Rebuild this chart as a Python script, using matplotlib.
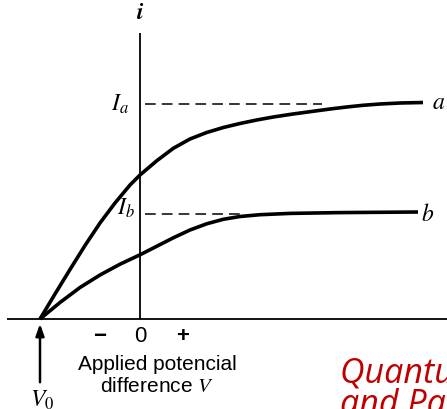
import matplotlib
matplotlib.use("Agg")
import matplotlib.pyplot as plt

plt.rcParams["mathtext.fontset"] = "stix"

# Data (arbitrary units: V relative to the i axis, V0 = -1)
V0 = -1.0
Ia = 2.15
Ib = 1.055
Va = [-1.0, -0.85, -0.7, -0.55, -0.4, -0.25, -0.1, 0.0, 0.167, 0.333, 0.5, 0.667,
      0.833, 1.0, 1.167, 1.333, 1.53, 1.73, 1.9, 2.067, 2.23, 2.4, 2.6, 2.83]
ia = [0.0, 0.25, 0.495, 0.735, 0.96, 1.16, 1.34, 1.44, 1.582, 1.707, 1.80, 1.865,
      1.915, 1.955, 1.99, 2.02, 2.05, 2.077, 2.10, 2.12, 2.137, 2.15, 2.16, 2.165]
Vb = [-1.0, -0.8, -0.6, -0.4, -0.2, 0.0, 0.167, 0.333, 0.5, 0.667, 0.833, 1.0,
      1.2, 1.5, 2.0, 2.78]
ib = [0.0, 0.165, 0.315, 0.44, 0.548, 0.642, 0.727, 0.812, 0.89, 0.952, 0.997, 1.025,
      1.043, 1.056, 1.064, 1.07]
tick_labels = ["\u2212", "0", "+"]
tick_pos = [-0.40, 0.0, 0.43]

fig = plt.figure(figsize=(4.47, 4.09), dpi=100)
ax = fig.add_axes([0, 0, 1, 1])
ax.set_xlim(-1.40, 3.07)
ax.set_ylim(-0.90, 3.19)
ax.axis("off")

# axes
ax.plot([-1.33, 3.07], [0, 0], color="black", lw=1.3, solid_capstyle="butt")
ax.plot([0, 0], [0, 2.86], color="black", lw=1.3, solid_capstyle="butt")

# dashed saturation levels
ax.plot([0.05, 1.82], [Ia, Ia], color="black", lw=1.1, dashes=(7, 4))
ax.plot([0.05, 1.03], [Ib, Ib], color="black", lw=1.1, dashes=(7, 4))

# curves
ax.plot(Va, ia, color="black", lw=2.6, solid_joinstyle="round", solid_capstyle="butt")
ax.plot(Vb, ib, color="black", lw=2.6, solid_joinstyle="round", solid_capstyle="butt")

ax.text(0.0, 3.07, r"$\boldsymbol{i}$", ha="center", va="center", fontsize=17)
ax.text(-0.20, Ia + 0.0, r"$I_a$", ha="center", va="center", fontsize=17)
ax.text(-0.14, Ib + 0.05, r"$I_b$", ha="center", va="center", fontsize=17)
ax.text(2.99, 2.17, r"$a$", ha="center", va="center", fontsize=17)
ax.text(2.88, 1.05, r"$b$", ha="center", va="center", fontsize=17)

for p, t in zip(tick_pos, tick_labels):
    ax.text(p, -0.18, t, ha="center", va="center", fontsize=16,
            family="Liberation Sans", fontweight="bold" if t != "0" else "normal")

ax.text(0.17, -0.46, "Applied potencial", ha="center", va="center", fontsize=15, family="Liberation Sans")
ax.text(0.17, -0.68, r"difference $V$", ha="center", va="center", fontsize=15, family="Liberation Sans")

ax.annotate("", xy=(V0, -0.02), xytext=(V0, -0.66),
            arrowprops=dict(arrowstyle="-|>,head_length=0.7,head_width=0.25", color="black", lw=1.8))
ax.text(V0 + 0.02, -0.81, r"$V_0$", ha="center", va="center", fontsize=17)

ax.text(2.0, -0.64, "Quantum Physics", ha="left", va="baseline", fontsize=24.5,
        family="Open Sans", style="italic", color="#c00000")
ax.text(2.0, -0.95, "and Particles", ha="left", va="baseline", fontsize=24.5,
        family="Open Sans", style="italic", color="#c00000")

fig.savefig("out.png", dpi=100)
